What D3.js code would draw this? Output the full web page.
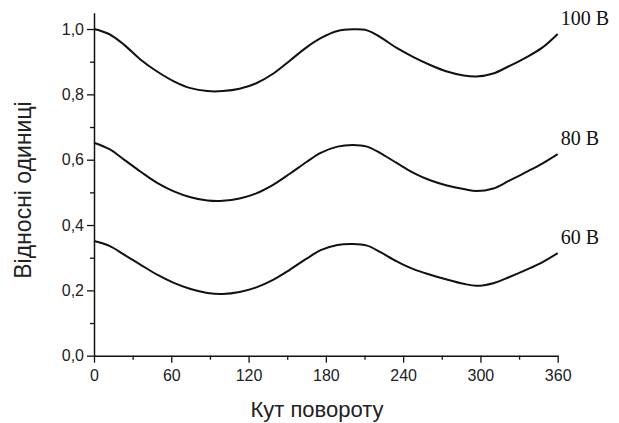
<!DOCTYPE html>
<html>
<head>
<meta charset="utf-8">
<script src="https://cdn.jsdelivr.net/npm/d3@7"></script>
<style>
  html, body { margin: 0; padding: 0; background: #fff; }
  svg { display: block; }
</style>
</head>
<body>
<svg id="chart" width="619" height="423"></svg>
<script>
// ---- data ----
const angles = [0, 12, 23, 36, 49, 62, 75, 88, 100, 113, 126, 139, 152, 165, 176, 189, 201, 212, 222, 235, 248, 261, 274, 287, 297, 310, 322, 335, 348, 360];
const v100 = [1.000, 0.984, 0.953, 0.907, 0.870, 0.840, 0.819, 0.810, 0.810, 0.817, 0.834, 0.863, 0.903, 0.944, 0.972, 0.994, 0.999, 0.996, 0.976, 0.942, 0.914, 0.890, 0.870, 0.858, 0.855, 0.864, 0.886, 0.912, 0.943, 0.985];
const v80  = [0.652, 0.632, 0.601, 0.564, 0.529, 0.503, 0.485, 0.475, 0.474, 0.481, 0.497, 0.523, 0.557, 0.593, 0.621, 0.640, 0.645, 0.640, 0.621, 0.590, 0.560, 0.537, 0.521, 0.510, 0.504, 0.512, 0.535, 0.561, 0.588, 0.617];
const v60  = [0.351, 0.336, 0.310, 0.279, 0.248, 0.223, 0.204, 0.192, 0.189, 0.195, 0.209, 0.232, 0.263, 0.297, 0.323, 0.339, 0.342, 0.337, 0.318, 0.289, 0.265, 0.248, 0.233, 0.220, 0.214, 0.222, 0.240, 0.262, 0.286, 0.314];
const seriesNames = ["100 В", "80 В", "60 В"];
const xTicks = [0, 60, 120, 180, 240, 300, 360];
const xMinorTicks = [30, 90, 150, 210, 270, 330];
const yTicks = [0.0, 0.2, 0.4, 0.6, 0.8, 1.0];
const yMinorTicks = [0.1, 0.3, 0.5, 0.7, 0.9];
const xTitle = "Кут повороту";
const yTitle = "Відносні одиниці";

// ---- layout ----
const W = 619, H = 423;
const margin = { left: 94, right: 61.3, top: 12.7, bottom: 67.3 };
const svg = d3.select("#chart");
const x = d3.scaleLinear().domain([0, 360]).range([margin.left, W - margin.right]);
const y = d3.scaleLinear().domain([0, 1.05]).range([H - margin.bottom, margin.top]);

const fmt = v => d3.format(".1f")(v).replace(".", ",");
const sans = "'Liberation Sans', Arial, sans-serif";
const serif = "'Liberation Serif', 'Times New Roman', serif";

// minor ticks
svg.append("g")
  .attr("transform", `translate(0,${y(0)})`)
  .call(d3.axisBottom(x).tickValues(xMinorTicks).tickSize(4).tickFormat(""))
  .call(g => g.select(".domain").remove())
  .call(g => g.selectAll("line").attr("stroke", "#111").attr("stroke-width", 1.3));
svg.append("g")
  .attr("transform", `translate(${x(0)},0)`)
  .call(d3.axisLeft(y).tickValues(yMinorTicks).tickSize(4).tickFormat(""))
  .call(g => g.select(".domain").remove())
  .call(g => g.selectAll("line").attr("stroke", "#111").attr("stroke-width", 1.3));

// major axes
const xAxis = svg.append("g")
  .attr("transform", `translate(0,${y(0)})`)
  .call(d3.axisBottom(x).tickValues(xTicks).tickSize(7).tickSizeOuter(0).tickPadding(7).tickFormat(d3.format("d")));
const yAxis = svg.append("g")
  .attr("transform", `translate(${x(0)},0)`)
  .call(d3.axisLeft(y).tickValues(yTicks).tickSize(7).tickSizeOuter(0).tickPadding(3).tickFormat(fmt));

[xAxis, yAxis].forEach(g => {
  g.select(".domain").attr("stroke", "#111").attr("stroke-width", 1.5);
  g.selectAll(".tick line").attr("stroke", "#111").attr("stroke-width", 1.3);
  g.selectAll(".tick text").attr("fill", "#222").style("font-family", sans).style("font-size", "16px");
});

// curves
const line = d3.line()
  .x((d, i) => x(angles[i]))
  .y(d => y(d))
  .curve(d3.curveCatmullRom.alpha(0.5));

const allSeries = [v100, v80, v60];
allSeries.forEach((vals, k) => {
  svg.append("path")
    .datum(vals)
    .attr("fill", "none")
    .attr("stroke", "#111")
    .attr("stroke-width", 2)
    .attr("stroke-linejoin", "round")
    .attr("d", line);
  svg.append("text")
    .attr("x", x(360) + 3)
    .attr("y", y(vals[vals.length - 1]) - 9)
    .style("font-family", serif)
    .style("font-size", "20px")
    .attr("fill", "#111")
    .text(seriesNames[k]);
});

// titles
svg.append("text")
  .attr("x", 317)
  .attr("y", 417)
  .attr("text-anchor", "middle")
  .style("font-family", sans)
  .style("font-size", "22px")
  .attr("fill", "#222")
  .text(xTitle);

svg.append("text")
  .attr("transform", `translate(31,190) rotate(-90)`)
  .attr("text-anchor", "middle")
  .style("font-family", sans)
  .style("font-size", "23px")
  .attr("fill", "#222")
  .text(yTitle);
</script>
</body>
</html>
